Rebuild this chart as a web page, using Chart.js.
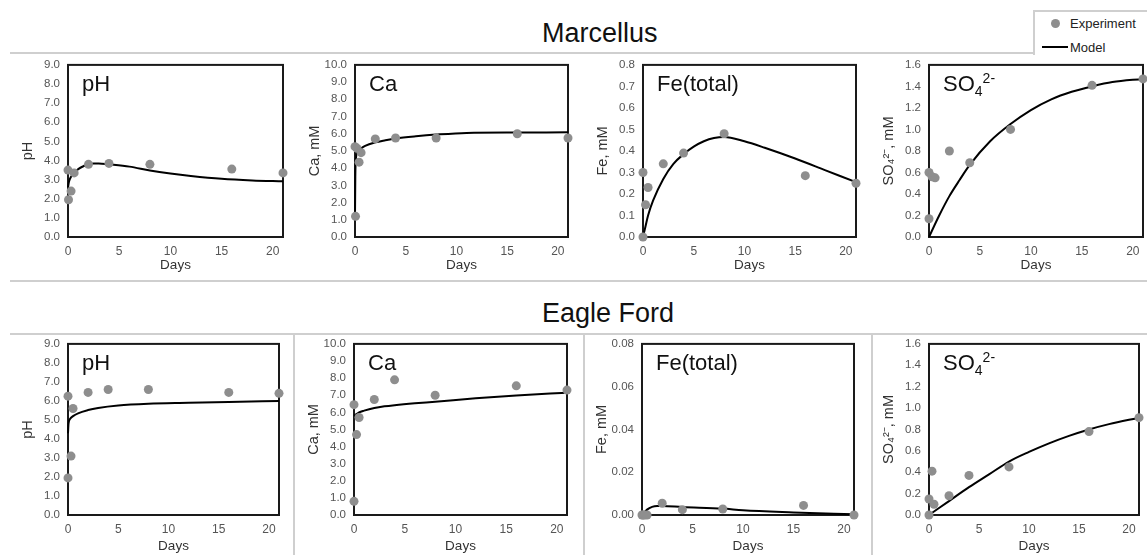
<!DOCTYPE html>
<html>
<head>
<meta charset="utf-8">
<script src="https://cdn.jsdelivr.net/npm/chart.js@4.4.1/dist/chart.umd.min.js"></script>
<style>
  body { margin: 0; background: #fff; width: 1147px; height: 555px; overflow: hidden; position: relative;
         font-family: "Liberation Sans", Arial, sans-serif; }
  .hline { position: absolute; height: 2px; background: #cfcfcf; }
  .vline { position: absolute; width: 2px; background: #cfcfcf; }
  .group { position: absolute; font-size: 27px; line-height: 1; color: #111; }
  .plabel { position: absolute; font-size: 22px; line-height: 1; color: #111; white-space: nowrap; }
  .plabel sub, .plabel sup { font-size: 14px; line-height: 0; }
  canvas { position: absolute; }
  #legend { position: absolute; left: 1033px; top: 10px; width: 130px; height: 43px;
            border-left: 2px solid #cfcfcf; border-top: 2px solid #cfcfcf; font-size: 13px; color: #222; }
  #legend .dot { position: absolute; left: 16px; top: 7px; width: 9px; height: 9px; border-radius: 50%; background: #8e8e8e; }
  #legend .ln { position: absolute; left: 7px; top: 34px; width: 26px; height: 2px; background: #000; }
  #legend .t { position: absolute; left: 35px; line-height: 1; }
</style>
</head>
<body>

<div class="group" style="left:542px; top:20px;">Marcellus</div>
<div class="group" style="left:542px; top:300px;">Eagle Ford</div>

<div class="hline" style="left:10px; top:52px; width:1023px;"></div>
<div class="hline" style="left:10px; top:280px; width:1137px;"></div>
<div class="hline" style="left:10px; top:333px; width:1137px;"></div>
<div class="vline" style="left:293px; top:333px; height:222px;"></div>
<div class="vline" style="left:583px; top:333px; height:222px;"></div>
<div class="vline" style="left:871px; top:333px; height:222px;"></div>

<div id="legend">
  <div class="dot"></div><div class="t" style="top:5px;">Experiment</div>
  <div class="ln"></div><div class="t" style="top:29px;">Model</div>
</div>

<script>
// Marcellus
const marcPhDays = [0, 0.05, 0.3, 0.6, 2, 4, 8, 16, 21];
const marcPh = [3.5, 1.95, 2.4, 3.35, 3.8, 3.85, 3.8, 3.55, 3.35];
const marcPhModelDays = [0, 0.1, 0.3, 0.6, 1, 1.5, 2, 2.5, 3, 4, 6, 8, 10, 12, 15, 18, 21];
const marcPhModel = [2.6, 2.9, 3.15, 3.35, 3.55, 3.7, 3.8, 3.85, 3.85, 3.8, 3.68, 3.48, 3.32, 3.19, 3.04, 2.96, 2.92];

const marcCaDays = [0, 0.05, 0.2, 0.4, 0.6, 2, 4, 8, 16, 21];
const marcCa = [5.25, 1.2, 5.15, 4.35, 4.9, 5.7, 5.75, 5.75, 6.0, 5.75];
const marcCaModelDays = [0, 0.03, 0.1, 0.3, 0.6, 1, 2, 3, 4, 6, 8, 11, 16, 21];
const marcCaModel = [1.2, 3.5, 4.6, 5.0, 5.15, 5.3, 5.5, 5.62, 5.72, 5.85, 5.95, 6.05, 6.07, 6.08];

const marcFeDays = [0, 0, 0.25, 0.5, 2, 4, 8, 16, 21];
const marcFe = [0.0, 0.3, 0.15, 0.23, 0.34, 0.39, 0.48, 0.285, 0.25];
const marcFeModelDays = [0, 0.25, 0.5, 1, 2, 3, 4, 5, 6, 7, 8, 10, 12, 15, 18, 21];
const marcFeModel = [0, 0.05, 0.1, 0.17, 0.27, 0.34, 0.385, 0.42, 0.445, 0.46, 0.465, 0.445, 0.415, 0.365, 0.31, 0.255];

const marcSo4Days = [0, 0, 0.3, 0.6, 2, 4, 8, 16, 21];
const marcSo4 = [0.6, 0.17, 0.56, 0.55, 0.8, 0.69, 1.0, 1.41, 1.47];
const marcSo4ModelDays = [0, 1, 2, 3, 4, 6, 8, 10, 12, 14, 16, 18, 21];
const marcSo4Model = [0, 0.2, 0.38, 0.53, 0.67, 0.89, 1.05, 1.18, 1.28, 1.35, 1.4, 1.44, 1.47];

// Eagle Ford
const efPhDays = [0, 0, 0.3, 0.5, 2, 4, 8, 16, 21];
const efPh = [6.25, 1.95, 3.1, 5.6, 6.45, 6.6, 6.6, 6.45, 6.4];
const efPhModelDays = [0, 0.05, 0.2, 0.5, 1, 2, 3, 5, 8, 12, 16, 21];
const efPhModel = [4.3, 4.8, 5.05, 5.2, 5.35, 5.52, 5.63, 5.76, 5.85, 5.9, 5.95, 6.0];

const efCaDays = [0, 0, 0.25, 0.5, 2, 4, 8, 16, 21];
const efCa = [6.45, 0.8, 4.7, 5.7, 6.75, 7.9, 7.0, 7.55, 7.3];
const efCaModelDays = [0, 0.5, 1, 2, 3, 4, 6, 8, 12, 16, 21];
const efCaModel = [5.8, 6.0, 6.1, 6.25, 6.35, 6.42, 6.53, 6.62, 6.82, 6.98, 7.15];

const efFeDays = [0, 0.1, 0.25, 0.5, 2, 4, 8, 16, 21];
const efFe = [0, 0, 0, 0, 0.0055, 0.0025, 0.0028, 0.0045, 0];
const efFeModelDays = [0, 0.5, 1, 1.5, 2, 4, 8, 10, 15, 21];
const efFeModel = [0, 0.0025, 0.0038, 0.0042, 0.0042, 0.0037, 0.003, 0.0022, 0.0012, 0.0003];

const efSo4Days = [0, 0, 0.3, 0.5, 2, 4, 8, 16, 21];
const efSo4 = [0.15, 0, 0.41, 0.1, 0.18, 0.37, 0.45, 0.78, 0.91];
const efSo4ModelDays = [0, 2, 4, 6, 8, 10, 12, 14, 16, 18, 21];
const efSo4Model = [0, 0.13, 0.26, 0.38, 0.5, 0.59, 0.67, 0.74, 0.8, 0.85, 0.91];

const xTicks = [0, 5, 10, 15, 20];
const so4Html = 'SO<sub>4</sub><sup>2-</sup>';

// row layout: plot top, plot height, x axis height
const rows = [
  { top: 65, h: 173, xh: 36 },
  { top: 344, h: 172, xh: 39 }
];

const panels = [
  { row: 0, left: 68,  w: 215, days: marcPhDays,  exp: marcPh,  md: marcPhModelDays,  model: marcPhModel,  max: 9,   step: 1,   dec: 1, yTitle: 'pH',       label: 'pH' },
  { row: 0, left: 355, w: 213, days: marcCaDays,  exp: marcCa,  md: marcCaModelDays,  model: marcCaModel,  max: 10,  step: 1,   dec: 1, yTitle: 'Ca, mM',   label: 'Ca' },
  { row: 0, left: 643, w: 213, days: marcFeDays,  exp: marcFe,  md: marcFeModelDays,  model: marcFeModel,  max: 0.8, step: 0.1, dec: 1, yTitle: 'Fe, mM',   label: 'Fe(total)' },
  { row: 0, left: 929, w: 214, days: marcSo4Days, exp: marcSo4, md: marcSo4ModelDays, model: marcSo4Model, max: 1.6, step: 0.2, dec: 1, yTitle: 'SO\u2084\u00B2\u207B, mM', label: so4Html },
  { row: 1, left: 68,  w: 211, days: efPhDays,    exp: efPh,    md: efPhModelDays,    model: efPhModel,    max: 9,   step: 1,   dec: 1, yTitle: 'pH',       label: 'pH' },
  { row: 1, left: 354, w: 213, days: efCaDays,    exp: efCa,    md: efCaModelDays,    model: efCaModel,    max: 10,  step: 1,   dec: 1, yTitle: 'Ca, mM',   label: 'Ca' },
  { row: 1, left: 642, w: 212, days: efFeDays,    exp: efFe,    md: efFeModelDays,    model: efFeModel,    max: 0.08, step: 0.02, dec: 2, yTitle: 'Fe, mM', label: 'Fe(total)' },
  { row: 1, left: 929, w: 210, days: efSo4Days,   exp: efSo4,   md: efSo4ModelDays,   model: efSo4Model,   max: 1.6, step: 0.2, dec: 1, yTitle: 'SO\u2084\u00B2\u207B, mM', label: so4Html }
];

const AXIS_W = 49;
const PAD_TOP = 8;
const PAD_RIGHT = 8;
const FONT = '"Liberation Sans", Arial, sans-serif';

// black box round the plot area, drawn under the points
const frame = {
  id: 'frame',
  beforeDatasetsDraw(chart) {
    const a = chart.chartArea;
    const ctx = chart.ctx;
    ctx.save();
    ctx.strokeStyle = '#1a1a1a';
    ctx.lineWidth = 2;
    ctx.strokeRect(a.left, a.top, a.right - a.left, a.bottom - a.top);
    ctx.restore();
  }
};

function makeConfig(p, r) {
  return {
    type: 'scatter',
    data: {
      datasets: [
        {
          type: 'scatter',
          label: 'Experiment',
          data: p.days.map((d, i) => ({ x: d, y: p.exp[i] })),
          backgroundColor: '#8e8e8e',
          borderWidth: 0,
          pointRadius: 4.5,
          clip: false,
          order: 0
        },
        {
          type: 'line',
          label: 'Model',
          data: p.md.map((d, i) => ({ x: d, y: p.model[i] })),
          borderColor: '#000',
          borderWidth: 2,
          pointRadius: 0,
          fill: false,
          cubicInterpolationMode: 'monotone',
          clip: false,
          order: 1
        }
      ]
    },
    options: {
      responsive: false,
      animation: false,
      devicePixelRatio: 1,
      layout: { padding: { top: PAD_TOP, right: PAD_RIGHT, left: 0, bottom: 0 } },
      plugins: { legend: { display: false }, tooltip: { enabled: false } },
      scales: {
        x: {
          type: 'linear',
          min: 0,
          max: 21,
          grid: { display: false, drawTicks: false },
          border: { display: false },
          afterBuildTicks: s => { s.ticks = xTicks.map(v => ({ value: v })); },
          afterFit: s => { s.height = r.xh; },
          ticks: { padding: 7, autoSkip: false, maxRotation: 0, color: '#555', font: { family: FONT, size: 12 } },
          title: { display: true, text: 'Days', padding: 0, color: '#333', font: { family: FONT, size: 13.5 } }
        },
        y: {
          min: 0,
          max: p.max,
          grid: { display: false, drawTicks: false },
          border: { display: false },
          afterFit: s => { s.width = AXIS_W; },
          ticks: {
            stepSize: p.step,
            autoSkip: false,
            padding: 8,
            color: '#555',
            font: { family: FONT, size: 11.5 },
            callback: v => Number(v).toFixed(p.dec)
          },
          title: { display: true, text: p.yTitle, padding: 0, color: '#333', font: { family: FONT, size: 14.5 } }
        }
      }
    },
    plugins: [frame]
  };
}

panels.forEach(p => {
  const r = rows[p.row];
  const canvas = document.createElement('canvas');
  const cw = AXIS_W + p.w + PAD_RIGHT;
  const ch = PAD_TOP + r.h + r.xh;
  canvas.width = cw;
  canvas.height = ch;
  document.body.appendChild(canvas);

  const lab = document.createElement('div');
  lab.className = 'plabel';
  lab.innerHTML = p.label;
  lab.style.left = (p.left + 14) + 'px';
  lab.style.top = (r.top + 8) + 'px';
  document.body.appendChild(lab);

  // first pass only measures how much room Chart.js keeps round the plot area
  const probe = new Chart(canvas.getContext('2d'), makeConfig(p, r));
  const a = probe.chartArea;
  const extraTop = a.top;
  const extraLeft = a.left;
  const extraRight = cw - a.right;
  const extraBottom = ch - a.bottom;
  probe.destroy();

  canvas.width = extraLeft + p.w + extraRight;
  canvas.height = extraTop + r.h + extraBottom;
  const chart = new Chart(canvas.getContext('2d'), makeConfig(p, r));
  const b = chart.chartArea;
  canvas.style.left = (p.left - b.left) + 'px';
  canvas.style.top = (r.top - b.top) + 'px';
});
</script>
</body>
</html>
